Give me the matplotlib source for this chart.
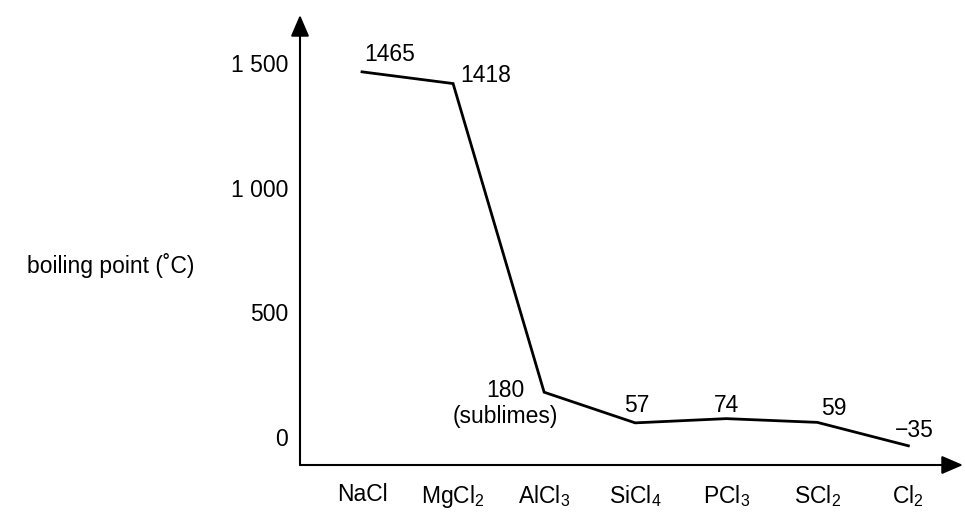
import matplotlib
matplotlib.use('Agg')
import matplotlib.pyplot as plt

# boiling points of the period 3 chlorides
compounds = ['NaCl', 'MgCl$_2$', 'AlCl$_3$', 'SiCl$_4$', 'PCl$_3$', 'SCl$_2$', 'Cl$_2$']
boiling = [1465, 1418, 180, 57, 74, 59, -35]
point_labels = ['1465', '1418', '180\n(sublimes)', '57', '74', '59', '\u221235']
yticks = [0, 500, 1000, 1500]
ytick_labels = ['0', '500', '1 000', '1 500']

# label offsets from each point, in pixels
label_offsets = [(28, 17), (33, 8), (-39, -11), (2, 17), (0, 13), (17, 14), (6, 15)]

plt.rcParams['font.family'] = ['Liberation Sans', 'DejaVu Sans']
plt.rcParams['mathtext.fontset'] = 'custom'
plt.rcParams['mathtext.rm'] = 'Liberation Sans'
plt.rcParams['mathtext.default'] = 'regular'
plt.rcParams['font.size'] = 16.5

fig = plt.figure(figsize=(9.65, 5.12), dpi=100)
ax = fig.add_axes([300 / 965, 1 - 465 / 512, 663 / 965, 450 / 512])

x = list(range(len(compounds)))
ax.plot(x, boiling, color='black', lw=2.0, solid_joinstyle='miter')

for xi, yi, lab, off in zip(x, boiling, point_labels, label_offsets):
    ax.annotate(lab, (xi, yi), xytext=off, textcoords='offset pixels',
                ha='center', va='center', multialignment='center',
                linespacing=1.15)

ax.set_xlim(-0.681, 6.6)
ax.set_ylim(-112, 1693)

ax.set_xticks(x)
ax.set_xticklabels(compounds)
ax.set_yticks(yticks)
ax.set_yticklabels(ytick_labels)
ax.tick_params(length=0)
ax.tick_params(axis='y', pad=8.6)
ax.tick_params(axis='x', pad=13)

for s in ax.spines.values():
    s.set_visible(False)

arrow = dict(arrowstyle='-|>,head_length=0.65,head_width=0.28', color='black',
             lw=1.5, shrinkA=0, shrinkB=0, mutation_scale=20)
ax.annotate('', xy=(1, 0), xytext=(0, 0), xycoords='axes fraction',
            arrowprops=arrow, annotation_clip=False)
ax.annotate('', xy=(0, 1), xytext=(0, 0), xycoords='axes fraction',
            arrowprops=arrow, annotation_clip=False)

ax.set_ylabel('boiling point (\u02daC)', rotation=0, ha='center', va='center')
ax.yaxis.set_label_coords(-0.285, 0.444)

fig.savefig('out.png', dpi=100)
